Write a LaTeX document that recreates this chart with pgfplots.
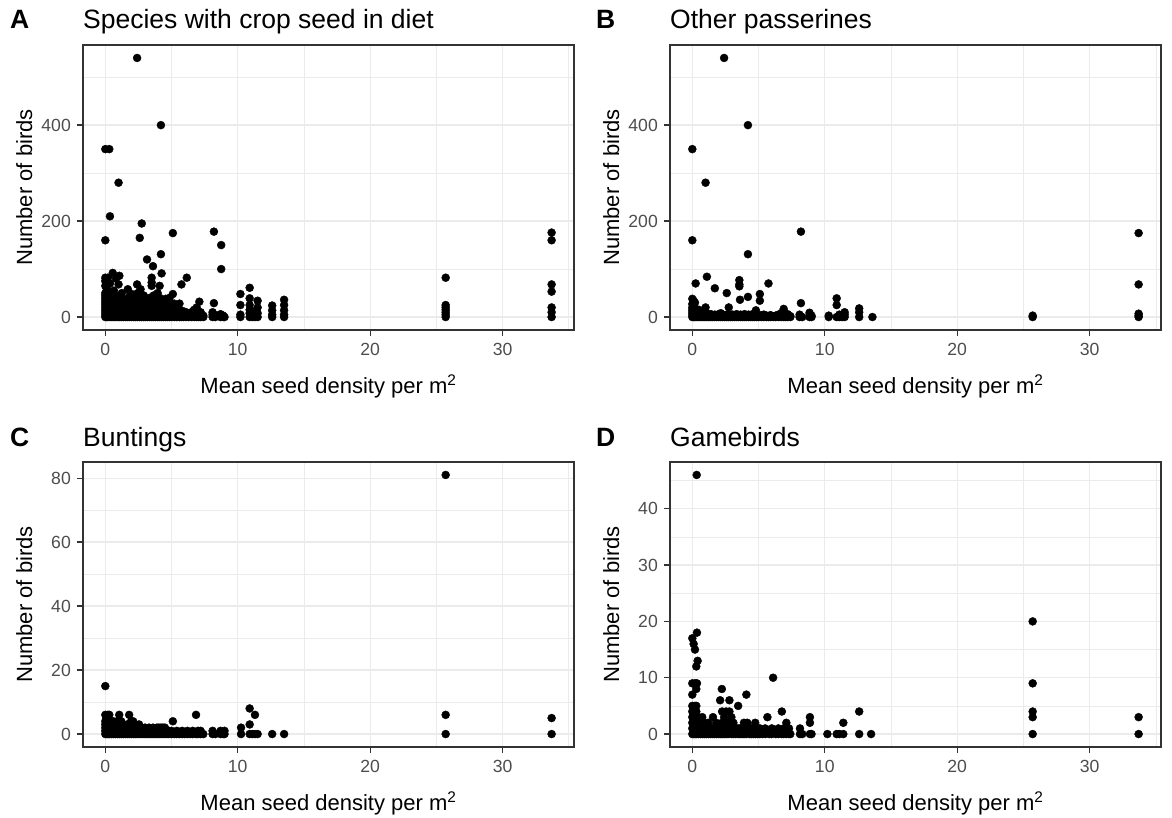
\documentclass[border=0pt]{standalone}
\usepackage{fontspec}
\setmainfont{Liberation Sans}
\usepackage{pgfplots}
\pgfplotsset{compat=1.18}

\definecolor{gridc}{HTML}{EBEBEB}
\definecolor{framec}{HTML}{333333}
\definecolor{tickc}{HTML}{4D4D4D}

\newcommand{\ticksize}{\fontsize{17.6}{20}\selectfont}
\newcommand{\axsize}{\fontsize{22}{26}\selectfont}
\newcommand{\titsize}{\fontsize{26.5}{30}\selectfont}

\pgfplotsset{
  panel/.style={
    scale only axis, width=491pt, height=285pt, anchor=south west,
    xmin=-1.685, xmax=35.39,
    xtick={0,10,20,30}, minor xtick={5,15,25,35},
    grid=both,
    major grid style={draw=gridc, line width=1.3pt},
    minor grid style={draw=gridc, line width=0.7pt},
    axis line style={draw=framec, line width=1.5pt},
    tick pos=left, tick align=outside,
    major tick length=6pt, minor tick length=0pt,
    tick style={draw=framec, line width=1.3pt},
    /pgf/number format/assume math mode=true,
    ticklabel style={font=\ticksize, text=tickc, inner sep=0pt},
    xticklabel style={anchor=north, yshift=-7pt},
    yticklabel style={anchor=east, xshift=-6pt},
  },
  dots/.style={only marks, mark=*, mark size=4pt, black,
    mark options={draw=black, fill=black}},
}

\begin{document}
\begin{tikzpicture}
\useasboundingbox (0pt,0pt) rectangle (1172pt,-818pt);

% A: species with crop seed in diet
\begin{axis}[panel, at={(83pt,-330pt)}, ymin=-27, ymax=567,
  ytick={0,200,400}, minor ytick={100,300,500}]
\addplot[dots] coordinates {
(0,0)(0,5)(0,10)(0,15)(0,20)(0,25)(0,30)(0,35)(0,40)(0,45)(0,50)(0,65)(0,75)(0,82)(0,160)(0,350)
(0.1,0)(0.1,8)(0.1,16)(0.1,24)(0.1,32)(0.1,40)(0.1,60)
(0.2,0)(0.2,6)(0.2,14)(0.2,22)(0.2,30)(0.2,38)(0.2,45)(0.2,82)
(0.3,350)(0.35,210)
(0.35,0)(0.35,8)(0.35,16)(0.35,25)(0.35,34)(0.35,50)(0.35,70)
(0.5,0)(0.5,5)(0.5,12)(0.5,20)(0.5,28)(0.5,36)(0.5,44)(0.56,92)
(0.65,0)(0.65,8)(0.65,18)(0.65,26)(0.65,55)
(0.8,0)(0.8,6)(0.8,14)(0.8,22)(0.8,30)(0.8,40)(0.8,80)
(0.95,0)(0.95,10)(0.95,20)(0.95,32)(1.0,68)
(1.0,280)
(1.1,0)(1.1,6)(1.1,14)(1.1,24)(1.1,45)(1.06,86)
(1.25,0)(1.25,8)(1.25,18)(1.25,30)(1.25,50)
(1.4,0)(1.4,5)(1.4,12)(1.4,22)(1.4,38)
(1.55,0)(1.55,10)(1.55,20)(1.55,28)
(1.7,0)(1.7,6)(1.7,15)(1.7,25)(1.7,35)(1.7,58)
(1.85,0)(1.85,8)(1.85,18)(1.85,30)(1.85,45)
(2.0,0)(2.0,5)(2.0,12)(2.0,22)(2.0,48)
(2.15,0)(2.15,10)(2.15,20)(2.15,32)
(2.3,0)(2.3,6)(2.3,14)(2.3,25)(2.3,40)(2.4,68)
(2.4,540)
(2.45,0)(2.45,8)(2.45,18)(2.45,28)(2.45,50)
(2.6,0)(2.6,5)(2.6,12)(2.6,24)(2.6,35)(2.66,58)(2.6,165)
(2.75,0)(2.75,10)(2.75,20)(2.75,30)(2.75,195)
(2.9,0)(2.9,6)(2.9,15)(2.9,26)(2.9,45)
(3.05,0)(3.05,8)(3.05,18)(3.05,35)
(3.15,120)
(3.2,0)(3.2,5)(3.2,12)(3.2,22)(3.2,30)
(3.35,0)(3.35,10)(3.35,20)(3.35,40)
(3.5,0)(3.5,6)(3.5,14)(3.5,25)(3.5,35)(3.5,65)(3.5,72)(3.5,82)
(3.6,106)
(3.65,0)(3.65,8)(3.65,18)(3.65,28)(3.65,45)
(3.8,0)(3.8,5)(3.8,12)(3.8,22)(3.8,32)
(3.95,0)(3.95,10)(3.95,20)(3.95,30)(3.95,50)
(4.1,0)(4.1,6)(4.1,15)(4.1,25)(4.1,40)(4.1,65)
(4.2,131)(4.2,400)
(4.25,0)(4.25,8)(4.25,18)(4.25,35)(4.25,91)
(4.4,0)(4.4,5)(4.4,12)(4.4,22)(4.4,30)
(4.55,0)(4.55,10)(4.55,20)(4.55,38)
(4.7,0)(4.7,6)(4.7,15)(4.7,25)
(4.85,0)(4.85,8)(4.85,18)(4.85,30)(4.85,40)
(5.0,0)(5.0,5)(5.0,12)(5.0,22)(5.1,48)(5.1,175)
(5.2,0)(5.2,8)(5.2,18)(5.2,28)
(5.4,0)(5.4,5)(5.4,12)(5.4,20)
(5.6,0)(5.6,8)(5.6,15)(5.6,28)
(5.75,0)(5.75,5)(5.75,68)
(5.9,0)(5.9,6)(5.9,12)
(6.1,0)(6.1,5)(6.1,10)(6.15,82)
(6.3,0)(6.3,6)
(6.5,0)(6.5,4)(6.5,10)
(6.7,0)(6.7,5)(6.7,15)
(6.9,0)(6.9,6)(6.9,20)
(7.05,0)(7.05,4)(7.1,32)
(7.2,0)(7.2,5)(7.2,10)
(7.4,0)(7.4,3)
(8.1,0)(8.1,5)(8.1,10)(8.2,29)(8.2,178)
(8.3,0)(8.3,4)
(8.7,0)(8.7,6)(8.75,100)(8.75,150)
(8.9,0)(8.9,3)
(9.0,0)
(10.2,0)(10.2,5)(10.2,25)(10.2,48)
(10.9,0)(10.9,8)(10.9,15)(10.9,25)(10.9,39)(10.9,61)
(11.1,0)(11.1,5)(11.1,10)
(11.3,0)(11.3,5)(11.3,12)
(11.5,0)(11.5,8)(11.5,20)(11.5,34)
(12.6,0)(12.6,5)(12.6,14)(12.6,24)
(13.5,0)(13.5,5)(13.5,14)(13.5,25)(13.5,36)
(25.7,0)(25.7,5)(25.7,10)(25.7,15)(25.7,20)(25.7,25)(25.7,82)
(33.7,0)(33.7,10)(33.7,20)(33.7,53)(33.7,68)(33.7,160)(33.7,176)
};
\end{axis}

% B: other passerines
\begin{axis}[panel, at={(670pt,-330pt)}, ymin=-27, ymax=567,
  ytick={0,200,400}, minor ytick={100,300,500}]
\addplot[dots] coordinates {
(0,0)(0,5)(0,10)(0,15)(0,20)(0,27)(0,38)(0,160)(0,350)
(0.1,0)(0.1,6)(0.1,12)(0.1,22)(0.1,34)
(0.2,0)(0.2,4)(0.2,10)(0.2,18)(0.2,30)(0.25,70)
(0.35,0)(0.35,5)(0.35,12)
(0.5,0)(0.5,4)(0.5,8)(0.5,15)
(0.65,0)(0.65,6)
(0.8,0)(0.8,4)(0.8,10)
(0.95,0)(0.95,5)(1.0,20)
(1.0,280)
(1.1,0)(1.1,8)(1.1,84)
(1.25,0)(1.25,4)
(1.4,0)(1.4,6)
(1.55,0)(1.55,3)
(1.7,0)(1.7,5)(1.7,60)
(1.85,0)(1.85,4)
(2.0,0)(2.0,6)
(2.15,0)(2.15,3)(2.15,8)
(2.3,0)(2.3,5)
(2.4,540)
(2.45,0)(2.45,4)
(2.6,0)(2.6,50)
(2.75,0)(2.75,6)(2.75,20)
(2.9,0)(2.9,4)
(3.05,0)(3.05,5)
(3.2,0)(3.2,3)
(3.35,0)(3.35,6)
(3.5,0)(3.5,4)(3.55,77)(3.55,68)(3.55,64)
(3.6,36)
(3.65,0)(3.65,5)
(3.8,0)(3.8,3)
(3.95,0)(3.95,6)
(4.1,0)(4.1,4)
(4.2,400)(4.2,131)(4.2,42)
(4.25,0)(4.25,5)
(4.4,0)(4.4,3)
(4.55,0)(4.55,6)
(4.7,0)(4.7,4)
(4.8,14)
(4.85,0)(4.85,5)
(5.0,0)(5.0,3)
(5.1,48)(5.1,34)
(5.2,0)(5.2,4)
(5.4,0)(5.4,5)
(5.6,0)(5.6,3)
(5.75,0)(5.75,70)
(5.9,0)(5.9,4)
(6.1,0)
(6.3,0)(6.3,3)
(6.5,0)(6.5,5)
(6.7,0)(6.7,8)
(6.9,0)(6.9,17)(6.9,10)
(7.05,0)(7.05,4)
(7.2,0)(7.2,6)
(7.4,0)(7.4,2)
(8.1,0)(8.1,5)(8.2,29)
(8.2,178)
(8.3,0)
(8.85,0)(8.85,9)
(9.0,0)(9.0,3)
(10.3,0)(10.3,3)
(10.9,0)(10.9,25)(10.9,39)
(11.1,0)(11.1,5)
(11.3,0)
(11.5,0)(11.5,10)(11.5,5)
(12.6,0)(12.6,18)(12.6,10)
(13.6,0)
(25.7,0)(25.7,3)
(33.7,0)(33.7,3)(33.7,7)(33.7,68)(33.7,175)
};
\end{axis}

% C: buntings
\begin{axis}[panel, at={(83pt,-747pt)}, ymin=-4.05, ymax=85.05,
  ytick={0,20,40,60,80}, minor ytick={10,30,50,70}]
\addplot[dots] coordinates {
(0,0)(0,1)(0,2)(0,3)(0,4)(0,6)(0,15)
(0.1,0)(0.1,1)(0.1,2)(0.1,5)
(0.2,0)(0.2,1)(0.2,3)(0.2,6)
(0.3,0)(0.3,2)(0.3,6)
(0.45,0)(0.45,1)(0.45,3)
(0.6,0)(0.6,2)(0.6,4)
(0.75,0)(0.75,1)(0.75,3)
(0.9,0)(0.9,2)(0.9,4)
(1.05,0)(1.05,1)(1.05,6)
(1.2,0)(1.2,2)(1.2,4)
(1.35,0)(1.35,1)(1.35,3)
(1.5,0)(1.5,2)
(1.65,0)(1.65,1)(1.65,3)
(1.8,0)(1.8,2)(1.8,6)
(1.95,0)(1.95,1)(1.95,4)
(2.1,0)(2.1,2)(2.1,4)
(2.25,0)(2.25,1)
(2.4,0)(2.4,2)
(2.55,0)(2.55,1)(2.55,3)
(2.7,0)(2.7,2)
(2.85,0)(2.85,1)
(3.0,0)(3.0,2)
(3.15,0)(3.15,1)
(3.3,0)(3.3,2)
(3.45,0)(3.45,1)
(3.6,0)(3.6,2)
(3.75,0)(3.75,1)
(3.9,0)(3.9,2)
(4.05,0)(4.05,1)(4.05,2)
(4.2,0)(4.2,2)
(4.35,0)(4.35,1)(4.35,2)
(4.5,0)(4.5,2)
(4.65,0)(4.65,1)
(4.8,0)(4.8,1)
(5.0,0)(5.0,1)(5.1,4)
(5.2,0)
(5.4,0)(5.4,1)
(5.6,0)
(5.8,0)(5.8,1)
(6.0,0)
(6.2,0)(6.2,1)
(6.4,0)
(6.6,0)(6.6,1)
(6.85,0)(6.85,6)
(7.0,0)(7.0,1)
(7.2,0)(7.2,1)
(7.4,0)
(8.1,0)(8.1,1)
(8.3,0)
(8.7,0)(8.7,1)
(8.9,0)
(9.0,0)(9.0,1)
(10.25,0)(10.25,2)
(10.9,0)(10.9,3)(10.9,8)
(11.1,0)
(11.3,0)(11.3,6)
(11.5,0)
(12.6,0)
(13.5,0)
(25.7,0)(25.7,6)(25.7,81)
(33.7,0)(33.7,5)
};
\end{axis}

% D: gamebirds
\begin{axis}[panel, at={(670pt,-747pt)}, ymin=-2.3, ymax=48.3,
  ytick={0,10,20,30,40}, minor ytick={5,15,25,35,45}]
\addplot[dots] coordinates {
(0,0)(0,1)(0,2)(0,3)(0,4)(0,5)(0,7)(0,9)(0,17)
(0.1,0)(0.1,1)(0.1,2)(0.1,3)(0.1,4)(0.1,16)
(0.2,0)(0.2,1)(0.2,2)(0.2,3)(0.2,5)(0.2,9)(0.2,15)
(0.3,0)(0.3,1)(0.3,2)(0.3,4)(0.3,5)(0.3,8)(0.3,12)(0.33,46)
(0.35,18)(0.35,9)(0.4,13)
(0.45,0)(0.45,1)(0.45,2)(0.45,3)
(0.6,0)(0.6,1)(0.6,2)
(0.75,0)(0.75,1)(0.75,3)
(0.9,0)(0.9,1)(0.9,2)
(1.05,0)(1.05,1)
(1.2,0)(1.2,2)
(1.35,0)(1.35,1)
(1.5,0)(1.5,1)(1.56,3)
(1.65,0)(1.65,1)
(1.8,0)(1.8,2)
(1.95,0)(1.95,1)
(2.1,0)(2.1,1)(2.1,6)
(2.25,0)(2.25,2)(2.25,4)(2.23,8)
(2.4,0)(2.4,1)(2.4,3)
(2.55,0)(2.55,1)(2.55,4)
(2.7,0)(2.7,2)
(2.8,6)(2.8,4)
(2.95,0)(2.95,1)(2.95,3)
(3.1,0)(3.1,2)
(3.25,0)(3.25,1)
(3.45,0)(3.45,1)(3.46,5)
(3.6,0)(3.6,1)
(3.75,0)(3.75,1)
(3.9,0)(3.9,2)
(4.05,0)(4.05,1)(4.08,7)
(4.15,2)
(4.3,0)(4.3,1)
(4.45,0)(4.45,1)
(4.6,0)(4.6,1)
(4.75,0)(4.75,2)
(4.9,0)(4.9,1)
(5.1,0)(5.1,1)
(5.3,0)
(5.5,0)(5.5,1)
(5.67,3)
(5.8,0)
(6.0,0)(6.0,1)
(6.1,10)
(6.3,0)
(6.5,0)(6.5,1)
(6.76,0)(6.76,4)
(6.9,0)(6.9,1)
(7.1,0)(7.1,1)(7.1,2)
(7.3,0)(7.3,1)
(7.4,0)
(8.13,0)(8.13,1)
(8.3,0)
(8.88,0)(8.88,2)(8.88,3)
(9.0,0)
(10.2,0)
(10.9,0)
(11.1,0)
(11.4,0)(11.4,2)
(12.6,0)(12.6,4)
(13.5,0)
(25.7,0)(25.7,3)(25.7,4)(25.7,9)(25.7,20)
(33.7,0)(33.7,3)
};
\end{axis}

% panel labels and titles
\node[anchor=base west, inner sep=0pt, font=\titsize\bfseries] at (10pt,-29pt) {A};
\node[anchor=base west, inner sep=0pt, font=\titsize] at (83pt,-29pt) {Species with crop seed in diet};
\node[anchor=base west, inner sep=0pt, font=\titsize\bfseries] at (596pt,-29pt) {B};
\node[anchor=base west, inner sep=0pt, font=\titsize] at (670pt,-29pt) {Other passerines};
\node[anchor=base west, inner sep=0pt, font=\titsize\bfseries] at (10pt,-446pt) {C};
\node[anchor=base west, inner sep=0pt, font=\titsize] at (83pt,-446pt) {Buntings};
\node[anchor=base west, inner sep=0pt, font=\titsize\bfseries] at (596pt,-446pt) {D};
\node[anchor=base west, inner sep=0pt, font=\titsize] at (670pt,-446pt) {Gamebirds};

% axis titles
\foreach \px/\py in {83/0, 670/0, 83/417, 670/417} {
  \node[anchor=base, inner sep=0pt, font=\axsize] at ({\px pt+245.5pt},{-393pt-\py pt}) {Mean seed density per m\textsuperscript{2}};
  \node[anchor=base, rotate=90, inner sep=0pt, font=\axsize] at ({\px pt-51pt},{-187.5pt-\py pt}) {Number of birds};
}
\end{tikzpicture}
\end{document}
